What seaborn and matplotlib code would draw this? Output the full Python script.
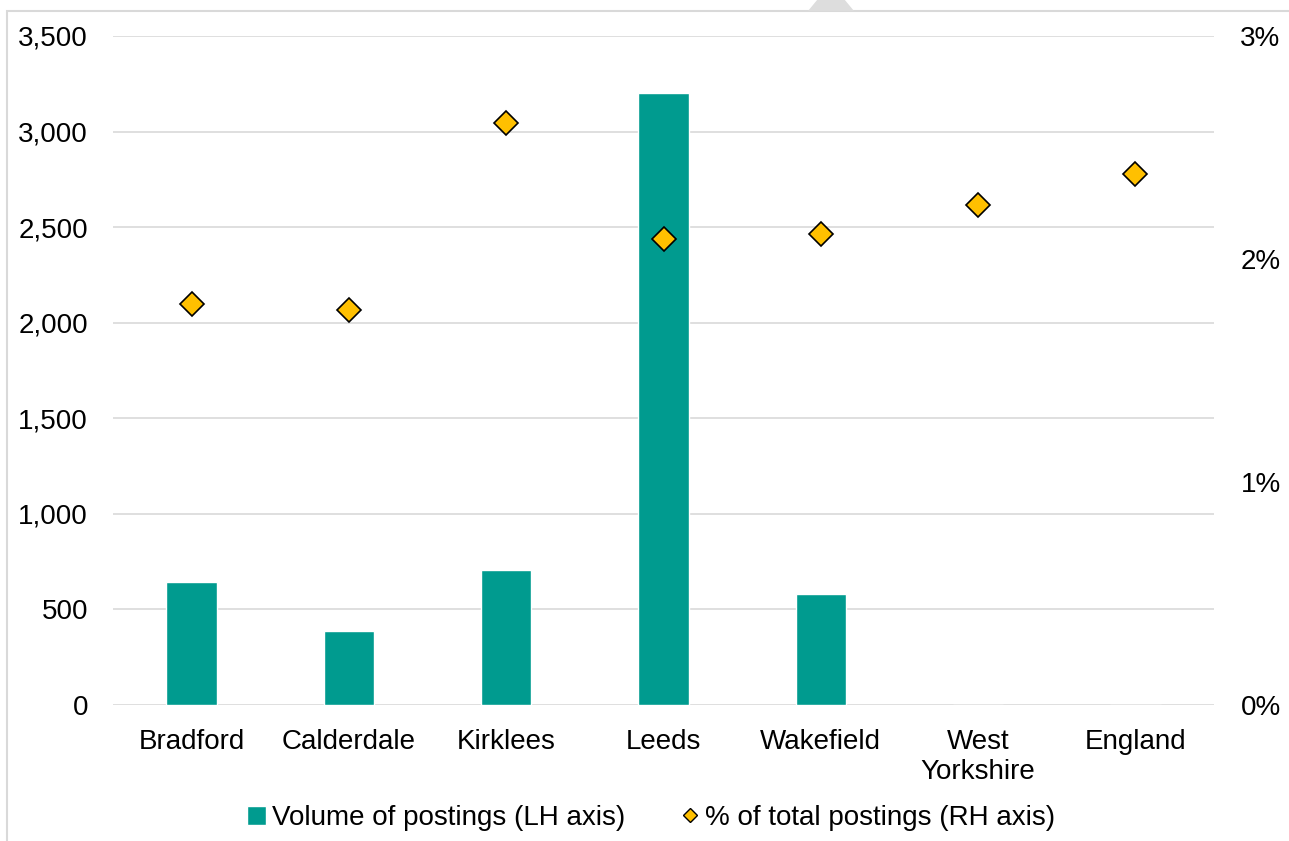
import matplotlib
matplotlib.use('Agg')

import matplotlib.pyplot as plt
import seaborn as sns
from matplotlib.patches import Rectangle, Polygon
from matplotlib.ticker import FuncFormatter

# Data
areas = ['Bradford', 'Calderdale', 'Kirklees', 'Leeds', 'Wakefield', 'West\nYorkshire', 'England']
volume = [643, 387, 706, 3202, 581, None, None]
pct_total = [1.80, 1.77, 2.61, 2.09, 2.11, 2.24, 2.38]

teal = '#009B8F'
gold = '#FFC000'
grid_col = '#D9D9D9'

sns.set_style('white')
plt.rcParams['font.family'] = ['Liberation Sans', 'DejaVu Sans']
plt.rcParams['font.size'] = 20
plt.rcParams['text.color'] = 'black'
plt.rcParams['xtick.color'] = 'black'
plt.rcParams['ytick.color'] = 'black'

fig = plt.figure(figsize=(12.89, 8.41), dpi=100)
ax = fig.add_axes([113/1289, 1 - 705/841, (1214 - 113)/1289, (705 - 36)/841])

vol_plot = [v if v is not None else 0 for v in volume]
sns.barplot(x=areas, y=vol_plot, color=teal, width=0.32, saturation=1, ax=ax, zorder=3)

ax.set_ylim(0, 3500)
ax.set_yticks(range(0, 3501, 500))
ax.yaxis.set_major_formatter(FuncFormatter(lambda v, p: f'{int(v):,}'))
ax.grid(axis='y', color=grid_col, linewidth=1.2, zorder=0)
ax.set_axisbelow(True)
ax.set_xlim(-0.5, 6.5)
ax.tick_params(axis='y', length=0, pad=18, labelsize=20, labelcolor='black')
ax.tick_params(axis='x', length=0, pad=17, labelsize=20, labelcolor='black')
for s in ax.spines.values():
    s.set_visible(False)

ax2 = ax.twinx()
sns.pointplot(x=areas, y=pct_total, linestyle='none', markers='D', color=gold,
              markersize=12, markeredgecolor='black', markeredgewidth=1.2, ax=ax2)
ax2.set_ylim(0, 3)
ax2.set_yticks([0, 1, 2, 3])
ax2.yaxis.set_major_formatter(FuncFormatter(lambda v, p: f'{int(v)}%'))
ax2.tick_params(axis='y', length=0, pad=19, labelsize=20, labelcolor='black')
ax2.set_xlim(-0.5, 6.5)
ax2.grid(False)
for s in ax2.spines.values():
    s.set_visible(False)

# Legend
h1 = Rectangle((0, 0), 1, 1, facecolor=teal)
h2 = plt.Line2D([], [], linestyle='none', marker='D', markersize=7, markerfacecolor=gold,
                markeredgecolor='black', markeredgewidth=1)
fig.legend([h1, h2], ['Volume of postings (LH axis)', '% of total postings (RH axis)'],
           loc='center', bbox_to_anchor=(651/1289, 1 - 818/841), ncol=2, frameon=False,
           fontsize=20, handlelength=0.7, handleheight=0.7, handletextpad=0.2, columnspacing=2.0)

# Chart border and top tab
fig.patches.append(Rectangle((7/1289, -0.02), 1.1, 1 - 11/841 + 0.02, transform=fig.transFigure,
                             fill=False, edgecolor=grid_col, linewidth=1.5))
fig.patches.append(Polygon([(808/1289, 1 - 11/841), (854/1289, 1 - 11/841), (831/1289, 1.02)],
                           closed=True, transform=fig.transFigure, facecolor='#DDDDDD', edgecolor='none'))

fig.savefig('out.png', dpi=100)
